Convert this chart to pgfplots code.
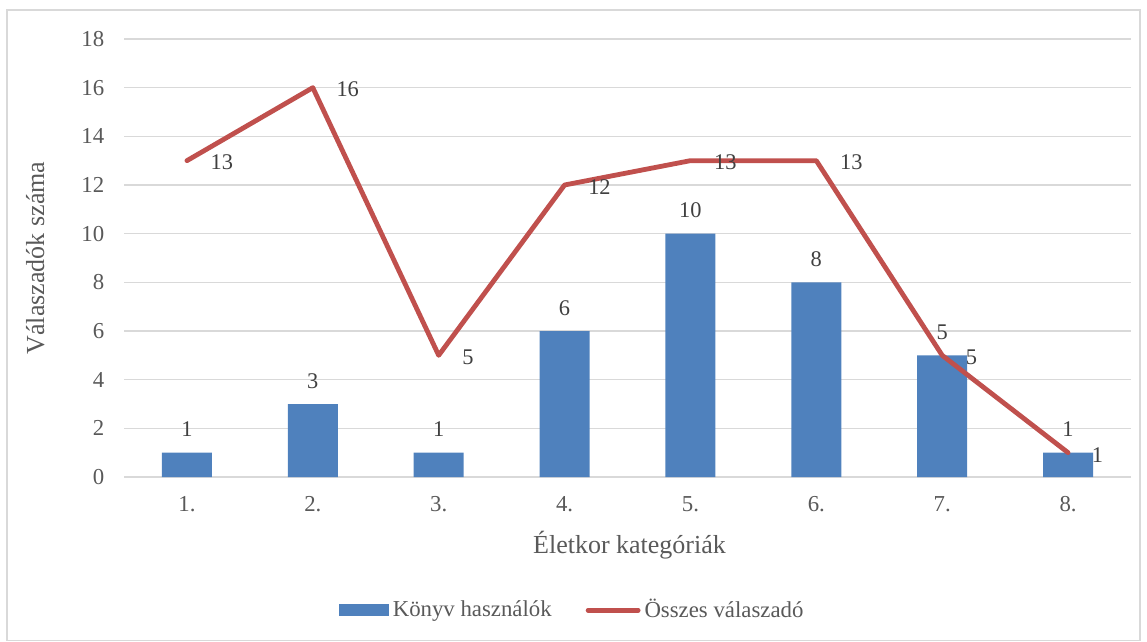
\documentclass[border=0pt]{standalone}
\usepackage{fontspec}
\setmainfont{Liberation Serif}
\usepackage{pgfplots}
\pgfplotsset{compat=1.18}

\definecolor{barblue}{HTML}{4F81BD}
\definecolor{linered}{HTML}{C0504D}
\definecolor{txtgray}{HTML}{595959}
\definecolor{gridgray}{HTML}{D9D9D9}

\begin{document}
\begin{tikzpicture}
\fontsize{11}{13}\selectfont
\begin{axis}[
  scale only axis, width=503.5pt, height=219pt,
  xmin=0.5, xmax=8.5, ymin=0, ymax=18,
  xtick={1,2,3,4,5,6,7,8},
  xticklabels={1.,2.,3.,4.,5.,6.,7.,8.},
  ytick={0,2,...,18},
  axis line style={draw=none},
  major tick length=0pt,
  ymajorgrids, grid style={gridgray, line width=0.75pt},
  tick label style={font=\fontsize{11.4}{13}\selectfont, text=txtgray},
  /pgf/number format/assume math mode=true,
  xticklabel style={yshift=-6pt},
  yticklabel style={xshift=-6pt},
  xlabel={Életkor kategóriák},
  ylabel={Válaszadók száma},
  label style={font=\fontsize{13}{15}\selectfont, text=txtgray},
  xlabel style={at={(axis description cs:0.502,-0.155)}, anchor=center},
  ylabel style={at={(axis description cs:-0.088,0.5)}, anchor=center},
  legend style={at={(axis description cs:0.446,-0.304)}, anchor=center,
    draw=none, fill=none, legend columns=2, font=\fontsize{11.4}{13}\selectfont,
    text=txtgray, inner sep=0pt,
    /tikz/every even column/.append style={column sep=15pt},
    /tikz/every odd column/.append style={column sep=0pt}},
  legend cell align=left,
  clip=false,
]
\addplot[ybar, bar width=25pt, fill=barblue, draw=none,
  nodes near coords,
  every node near coord/.append style={font=\fontsize{11.2}{13}\selectfont, text=black!75, yshift=4pt},
  legend image code/.code={\fill[barblue] (0pt,-3pt) rectangle (25pt,3pt);}]
  coordinates {(1,1) (2,3) (3,1) (4,6) (5,10) (6,8) (7,5) (8,1)};
\addlegendentry{Könyv használók}
\addplot[linered, line width=2.4pt, line cap=round, line join=round, mark=none,
  nodes near coords,
  every node near coord/.append style={font=\fontsize{11.2}{13}\selectfont, text=black!75, anchor=west, xshift=7pt, yshift=-1pt},
  legend image code/.code={\draw[linered, line width=2.4pt, line cap=round] (0pt,0pt) -- (25pt,0pt);}]
  coordinates {(1,13) (2,16) (3,5) (4,12) (5,13) (6,13) (7,5) (8,1)};
\addlegendentry{Összes válaszadó}
\coordinate (sw) at (rel axis cs:0,0);
\coordinate (ne) at (rel axis cs:1,1);
\end{axis}
\pgfresetboundingbox
\path[use as bounding box] ([shift={(-62pt,-82pt)}]sw) rectangle ([shift={(8pt,19.5pt)}]ne);
\draw[gridgray, line width=0.6pt] ([shift={(-58.5pt,-81.7pt)}]sw) rectangle ([shift={(4.5pt,14.5pt)}]ne);
\end{tikzpicture}
\end{document}
